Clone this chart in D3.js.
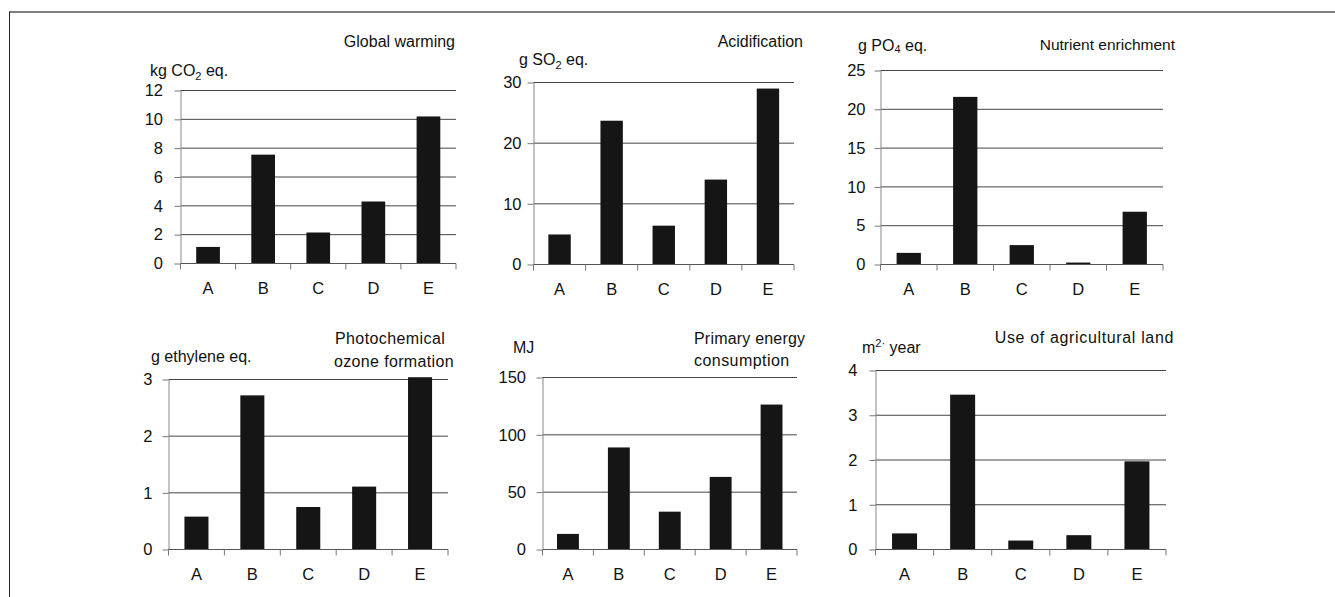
<!DOCTYPE html>
<html>
<head>
<meta charset="utf-8">
<script src="https://cdn.jsdelivr.net/npm/d3@7"></script>
<style>
  html, body { margin: 0; padding: 0; background: #fff; }
  svg { display: block; font-family: "Liberation Sans", Arial, sans-serif; }
  .tick-label, .cat-label, .unit, .title { fill: #111; }
</style>
</head>
<body>
<svg id="chart" width="1335" height="597"></svg>
<script>
// ── Data ────────────────────────────────────────────────────────────────
const categories = ['A', 'B', 'C', 'D', 'E'];

const globalWarming = [1.15, 7.55, 2.15, 4.3, 10.2];
const acidification = [4.95, 23.7, 6.4, 14.0, 29.0];
const nutrientEnrich = [1.5, 21.6, 2.5, 0.25, 6.8];
const ozoneFormation = [0.58, 2.72, 0.75, 1.11, 3.04];
const energyUse      = [13.6, 89, 33, 63.3, 126.4];
const landUse        = [0.36, 3.46, 0.2, 0.32, 1.97];

const gwTicks     = [0, 2, 4, 6, 8, 10, 12];
const acidTicks   = [0, 10, 20, 30];
const nutTicks    = [0, 5, 10, 15, 20, 25];
const ozoneTicks  = [0, 1, 2, 3];
const energyTicks = [0, 50, 100, 150];
const landTicks   = [0, 1, 2, 3, 4];

// unit labels: text parts, 'sub' / 'sup' marks small shifted glyphs
const gwUnit     = [{ t: 'kg CO' }, { t: '2', sub: true }, { t: ' eq.' }];
const acidUnit   = [{ t: 'g SO' }, { t: '2', sub: true }, { t: ' eq.' }];
const nutUnit    = [{ t: 'g PO' }, { t: '4', sub: true, shift: 1.5 }, { t: ' eq.' }];
const ozoneUnit  = [{ t: 'g ethylene eq.' }];
const energyUnit = [{ t: 'MJ' }];
const landUnit   = [{ t: 'm' }, { t: '2·', sup: true }, { t: ' year' }];

// ── Layout per panel ────────────────────────────────────────────────────
const panels = [
  { values: globalWarming, ticks: gwTicks, unit: gwUnit,
    x0: 180.5, x1: 456, yTop: 90.5, yBase: 263.5, gap: 17.5,
    unitX: 150, unitY: 76,
    titles: [{ text: 'Global warming', x: 455, y: 47, anchor: 'end' }] },
  { values: acidification, ticks: acidTicks, unit: acidUnit,
    x0: 533.5, x1: 794, yTop: 82.5, yBase: 264.5, gap: 12,
    unitX: 519, unitY: 65,
    titles: [{ text: 'Acidification', x: 803, y: 47, anchor: 'end' }] },
  { values: nutrientEnrich, ticks: nutTicks, unit: nutUnit,
    x0: 880.5, x1: 1163, yTop: 70.5, yBase: 264.5, gap: 15,
    unitX: 858, unitY: 51,
    titles: [{ text: 'Nutrient enrichment', x: 1175, y: 50, anchor: 'end', size: 15.5 }] },
  { values: ozoneFormation, ticks: ozoneTicks, unit: ozoneUnit,
    x0: 168.5, x1: 448, yTop: 379.5, yBase: 549.5, gap: 16,
    unitX: 151, unitY: 362,
    titles: [{ text: 'Photochemical', x: 335, y: 344, anchor: 'start', spacing: 0.4 },
             { text: 'ozone formation', x: 334, y: 367, anchor: 'start', spacing: 0.35 }] },
  { values: energyUse, ticks: energyTicks, unit: energyUnit,
    x0: 542.5, x1: 797, yTop: 377.5, yBase: 549.5, gap: 16.5,
    unitX: 513, unitY: 353,
    titles: [{ text: 'Primary energy', x: 694, y: 344, anchor: 'start', spacing: 0.2 },
             { text: 'consumption', x: 694, y: 366, anchor: 'start', spacing: 0.45 }] },
  { values: landUse, ticks: landTicks, unit: landUnit,
    x0: 875.5, x1: 1166, yTop: 370.5, yBase: 549.5, gap: 18,
    unitX: 862, unitY: 353,
    titles: [{ text: 'Use of agricultural land', x: 1174, y: 343, anchor: 'end', spacing: 0.65 }] }
];

const svg = d3.select('#chart');

// frame (only top and left edges show in the crop)
svg.append('line')
  .attr('x1', 9).attr('x2', 1335).attr('y1', 12).attr('y2', 12)
  .attr('stroke', '#555').attr('stroke-width', 1.6);
svg.append('line')
  .attr('x1', 9.5).attr('x2', 9.5).attr('y1', 12).attr('y2', 597)
  .attr('stroke', '#222').attr('stroke-width', 1);

panels.forEach(drawPanel);

function drawPanel(p) {
  const g = svg.append('g');
  const yMax = p.ticks[p.ticks.length - 1];

  const y = d3.scaleLinear().domain([0, yMax]).range([p.yBase, p.yTop]);

  // category bands (tick boundaries) and narrower bars inside them
  const xCat = d3.scaleBand().domain(categories).range([p.x0, p.x1]);
  const xBar = d3.scaleBand().domain(categories).range([p.x0, p.x1])
    .paddingInner(0.57).paddingOuter(0.285);

  // gridlines
  g.selectAll('.grid')
    .data(p.ticks.filter(d => d > 0))
    .enter()
    .append('line')
    .attr('class', 'grid')
    .attr('x1', p.x0).attr('x2', p.x1)
    .attr('y1', d => y(d)).attr('y2', d => y(d))
    .attr('stroke', '#444').attr('stroke-width', 1);

  // bars
  g.selectAll('.bar')
    .data(p.values)
    .enter()
    .append('rect')
    .attr('class', 'bar')
    .attr('x', (d, i) => xBar(categories[i]))
    .attr('y', d => y(d))
    .attr('width', xBar.bandwidth())
    .attr('height', d => p.yBase - y(d))
    .attr('fill', '#151515');

  // y axis
  const yAxis = g.append('g')
    .attr('transform', `translate(${p.x0},0)`)
    .call(d3.axisLeft(y)
      .tickValues(p.ticks)
      .tickFormat(d3.format('d'))
      .tickSize(6)
      .tickPadding(p.gap - 6)
      .tickSizeOuter(0));
  yAxis.select('.domain').attr('stroke', '#888');
  yAxis.selectAll('.tick line').attr('stroke', '#777');
  yAxis.selectAll('text')
    .attr('class', 'tick-label')
    .style('font-size', '16.5px')
    .style('font-family', '"Liberation Sans", Arial, sans-serif')
    .attr('fill', '#111');

  // x axis: baseline, boundary ticks and category labels
  g.append('line')
    .attr('x1', p.x0).attr('x2', p.x1)
    .attr('y1', p.yBase).attr('y2', p.yBase)
    .attr('stroke', '#555');

  const bounds = categories.map(c => xCat(c)).concat([p.x1]);
  g.selectAll('.xtick')
    .data(bounds)
    .enter()
    .append('line')
    .attr('class', 'xtick')
    .attr('x1', d => d).attr('x2', d => d)
    .attr('y1', p.yBase).attr('y2', p.yBase + 6)
    .attr('stroke', '#777');

  const xAxis = g.append('g')
    .attr('transform', `translate(0,${p.yBase})`)
    .call(d3.axisBottom(xCat).tickSize(0).tickPadding(19));
  xAxis.select('.domain').remove();
  xAxis.selectAll('text')
    .attr('class', 'cat-label')
    .style('font-size', '16.5px')
    .style('font-family', '"Liberation Sans", Arial, sans-serif')
    .attr('fill', '#111');

  // unit label
  const u = g.append('text')
    .attr('class', 'unit')
    .attr('x', p.unitX).attr('y', p.unitY)
    .style('font-size', '16px');
  p.unit.forEach(part => {
    const ts = u.append('tspan').text(part.t);
    if (part.sub) {
      const s = part.shift || 4;
      ts.style('font-size', '11px').attr('dy', s);
      part._back = -s;
    } else if (part.sup) {
      ts.style('font-size', '11px').attr('dy', -6);
      part._back = 6;
    }
  });
  // restore baseline after shifted parts
  u.selectAll('tspan').each(function (d, i) {
    const prev = p.unit[i - 1];
    if (prev && prev._back) d3.select(this).attr('dy', prev._back);
  });

  // titles
  p.titles.forEach(t => {
    g.append('text')
      .attr('class', 'title')
      .attr('x', t.x).attr('y', t.y)
      .attr('text-anchor', t.anchor)
      .style('font-size', (t.size || 16) + 'px')
      .style('letter-spacing', (t.spacing || 0) + 'px')
      .text(t.text);
  });
}
</script>
</body>
</html>
